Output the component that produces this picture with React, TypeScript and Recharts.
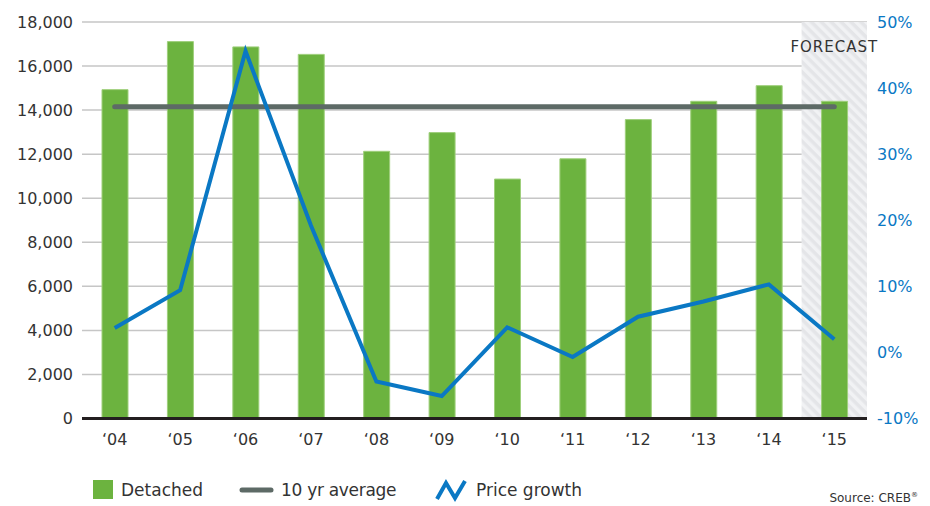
import React from 'react';
import {
  ComposedChart,
  Bar,
  Line,
  XAxis,
  YAxis,
  CartesianGrid,
  ReferenceArea,
} from 'recharts';

const categories = ['‘04', '‘05', '‘06', '‘07', '‘08', '‘09', '‘10', '‘11', '‘12', '‘13', '‘14', '‘15'];
const detached = [14930, 17110, 16870, 16530, 12130, 12980, 10870, 11790, 13570, 14400, 15110, 14400];
const priceGrowth = [3.7, 9.4, 45.6, 19.2, -4.4, -6.6, 3.8, -0.7, 5.4, 7.7, 10.3, 2.0];
const tenYrAverage = 14150;
const leftTicks = [0, 2000, 4000, 6000, 8000, 10000, 12000, 14000, 16000, 18000];
const rightTicks = [-10, 0, 10, 20, 30, 40, 50];
const forecastCategory = '‘15';

const data = categories.map((c, i) => ({
  year: c,
  detached: detached[i],
  growth: priceGrowth[i],
  avg: tenYrAverage,
}));

const FONT = '"DejaVu Sans", sans-serif';
const GREEN = '#6cb33f';
const BLUE = '#0a78c4';
const GRAY = '#5d6a66';
const TEXT = '#333333';

export default function App() {
  return (
    <div style={{ position: 'absolute', left: 0, top: 0, width: 930, height: 506, fontFamily: FONT }}>
      <svg width={0} height={0} style={{ position: 'absolute' }}>
        <defs>
          <pattern id="hatch" patternUnits="userSpaceOnUse" width={7} height={7} patternTransform="rotate(-45)">
            <rect x={0} y={0} width={7} height={7} fill="#e4e5e8" />
            <rect x={0} y={0} width={3.5} height={7} fill="#f1f2f4" />
          </pattern>
        </defs>
      </svg>
      <ComposedChart
        width={930}
        height={506}
        data={data}
        margin={{ top: 22, right: 0, bottom: 47.5, left: 0 }}
        style={{ fontFamily: FONT }}
      >
        <ReferenceArea
          yAxisId="left"
          x1={forecastCategory}
          x2={forecastCategory}
          y1={0}
          y2={18000}
          fill="url(#hatch)"
          fillOpacity={1}
          stroke="none"
          ifOverflow="extendDomain"
          label={{
            value: 'FORECAST',
            position: 'insideTop',
            offset: 19,
            fill: TEXT,
            fontSize: 15,
            letterSpacing: 1,
            fontFamily: FONT,
          }}
        />
        <CartesianGrid yAxisId="left" vertical={false} stroke="#c6c6c6" strokeWidth={1.5} />
        <XAxis
          dataKey="year"
          height={40}
          tickLine={false}
          axisLine={{ stroke: '#231f20', strokeWidth: 3 }}
          tickMargin={9.5}
          tick={{ fill: TEXT, fontSize: 16, fontFamily: FONT }}
          interval={0}
        />
        <YAxis
          yAxisId="left"
          orientation="left"
          width={82}
          domain={[0, 18000]}
          ticks={leftTicks}
          tickLine={false}
          axisLine={false}
          tickMargin={3}
          tick={{ fill: TEXT, fontSize: 16, fontFamily: FONT }}
          tickFormatter={(v: number) => v.toLocaleString('en-US')}
        />
        <YAxis
          yAxisId="right"
          orientation="right"
          width={63}
          domain={[-10, 50]}
          ticks={rightTicks}
          tickLine={false}
          axisLine={false}
          tickMargin={4}
          tick={{ fill: BLUE, fontSize: 16, fontFamily: FONT, textAnchor: 'start' }}
          tickFormatter={(v: number) => `${v}%`}
        />
        <Bar
          yAxisId="left"
          dataKey="detached"
          fill={GREEN}
          stroke="#9fcf7c"
          strokeWidth={1}
          barSize={26}
          isAnimationActive={false}
        />
        <Line
          yAxisId="left"
          dataKey="avg"
          stroke={GRAY}
          strokeWidth={5}
          strokeLinecap="round"
          dot={false}
          activeDot={false}
          isAnimationActive={false}
        />
        <Line
          yAxisId="right"
          dataKey="growth"
          type="linear"
          stroke={BLUE}
          strokeWidth={4}
          strokeLinejoin="miter"
          dot={false}
          activeDot={false}
          isAnimationActive={false}
        />
      </ComposedChart>
      <div style={{ position: 'absolute', left: 0, top: 0, width: 930, height: 506, pointerEvents: 'none', color: TEXT }}>
        <div style={{ position: 'absolute', left: 93, top: 480, width: 20, height: 19, background: GREEN }} />
        <div style={{ position: 'absolute', left: 121, top: 479, fontSize: 17, lineHeight: '22px' }}>Detached</div>
        <svg style={{ position: 'absolute', left: 236, top: 484 }} width={42} height={12}>
          <line x1={6} y1={6} x2={35} y2={6} stroke={GRAY} strokeWidth={5} strokeLinecap="round" />
        </svg>
        <div style={{ position: 'absolute', left: 281, top: 479, fontSize: 17, lineHeight: '22px', letterSpacing: -0.3 }}>10 yr average</div>
        <svg style={{ position: 'absolute', left: 434, top: 478 }} width={36} height={26}>
          <polyline points="3,21 12,5 21,20 31,3" fill="none" stroke={BLUE} strokeWidth={4} strokeLinejoin="miter" />
        </svg>
        <div style={{ position: 'absolute', left: 476, top: 479, fontSize: 17, lineHeight: '22px' }}>Price growth</div>
        <div style={{ position: 'absolute', right: 12, top: 491, fontSize: 12, lineHeight: '14px', whiteSpace: 'nowrap' }}>
          Source: CREB<span style={{ fontSize: 7, position: 'relative', top: -5, lineHeight: 0 }}>®</span>
        </div>
      </div>
    </div>
  );
}
